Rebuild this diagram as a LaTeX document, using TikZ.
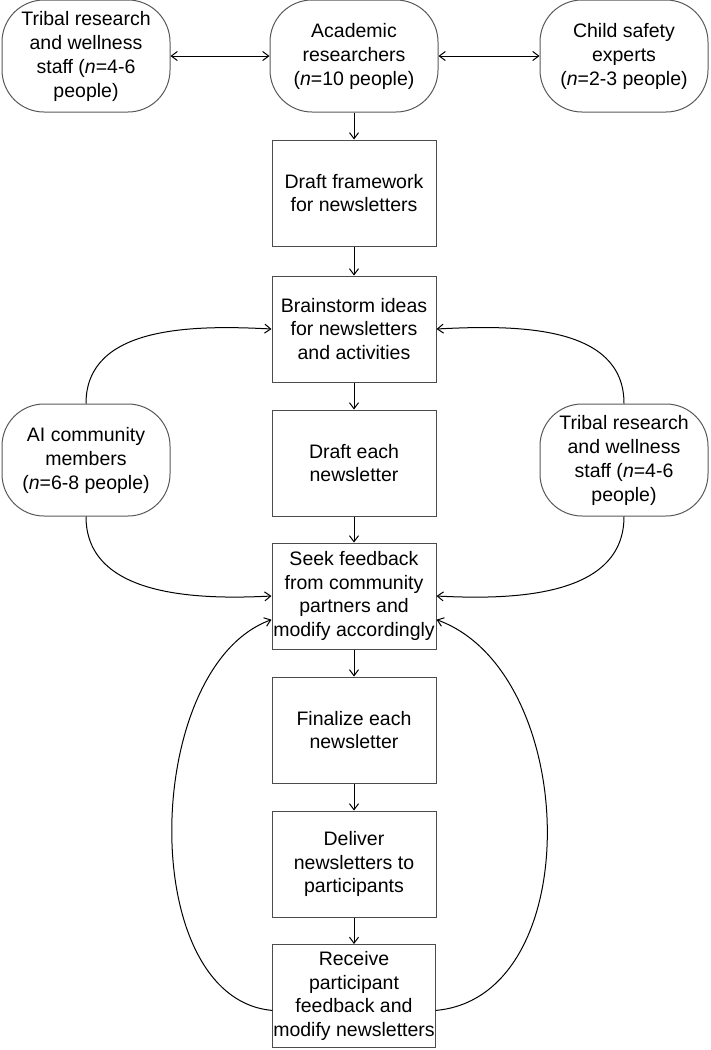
\documentclass[tikz,border=0pt]{standalone}
\usepackage{fontspec}
\setmainfont{Liberation Sans}
\usetikzlibrary{arrows,arrows.meta,shapes.geometric,calc,positioning}
\tikzstyle{stage} = [rectangle, minimum width=164pt, minimum height=106pt, inner sep=0.5pt, align=center, draw=black!70, line width=1pt, font=\fontsize{19.5}{23.5}\selectfont]
\tikzstyle{party} = [rectangle, rounded corners=42pt, minimum width=168pt, minimum height=112pt, inner sep=1pt, align=center, draw=black!65, line width=1pt, font=\fontsize{19.5}{24}\selectfont]

\begin{document}
\begin{tikzpicture}[->,>={Straight Barb[length=6pt,width=9pt]},line width=1pt]
            \useasboundingbox (0pt,0pt) rectangle (710pt,-1050pt);

            % partners at the top
            \node[party] (Academic) at (354pt,-56pt) {Academic\\researchers\\(\textit{n}=10 people)};
            \node[party] (TribalTop) [left of=Academic, node distance=268pt] {Tribal research\\and wellness\\staff (\textit{n}=4-6\\people)};
            \node[party] (Child) [right of=Academic, node distance=270pt] {Child safety\\experts\\(\textit{n}=2-3 people)};

            % main steps
            \node[stage] (Framework) [below of=Academic, node distance=137pt] {Draft framework\\for newsletters};
            \node[stage] (Brainstorm) [below of=Framework, node distance=136pt] {Brainstorm ideas\\for newsletters\\and activities};
            \node[stage] (DraftEach) [below of=Brainstorm, node distance=134pt] {Draft each\\newsletter};
            \node[stage] (Seek) [below of=DraftEach, node distance=133pt] {Seek feedback\\from community\\partners and\\modify accordingly};
            \node[stage] (Finalize) [below of=Seek, node distance=134pt] {Finalize each\\newsletter};
            \node[stage] (Deliver) [below of=Finalize, node distance=134pt] {Deliver\\newsletters to\\participants};
            \node[stage] (Receive) [below of=Deliver, node distance=132pt, minimum width=160pt, minimum height=103pt] {Receive\\participant\\feedback and\\modify newsletters};

            % community partners at the sides
            \node[party] (Community) [left of=DraftEach, node distance=268pt, yshift=3pt] {AI community\\members\\(\textit{n}=6-8 people)};
            \node[party] (TribalSide) [right of=DraftEach, node distance=270pt, yshift=3pt] {Tribal research\\and wellness\\staff (\textit{n}=4-6\\people)};

            \path (TribalTop) edge [<->] (Academic)
            (Academic)  edge [<->] (Child)
            edge (Framework)
            (Framework) edge (Brainstorm)
            (Brainstorm) edge (DraftEach)
            (DraftEach) edge (Seek)
            (Seek)      edge (Finalize)
            (Finalize)  edge (Deliver)
            (Deliver)   edge (Receive);

            \draw (Community.north) to[out=90,in=177] (Brainstorm.west);
            \draw (TribalSide.north) to[out=90,in=3] (Brainstorm.east);
            \draw (Community.south) to[out=-90,in=183] (Seek.west);
            \draw (TribalSide.south) to[out=-90,in=-3] (Seek.east);
            \draw (Receive.190) to[out=175,in=200,looseness=0.9] (Seek.196);
            \draw (Receive.-10) to[out=5,in=-20,looseness=1.0] (Seek.-16);
        \end{tikzpicture}
\end{document}
